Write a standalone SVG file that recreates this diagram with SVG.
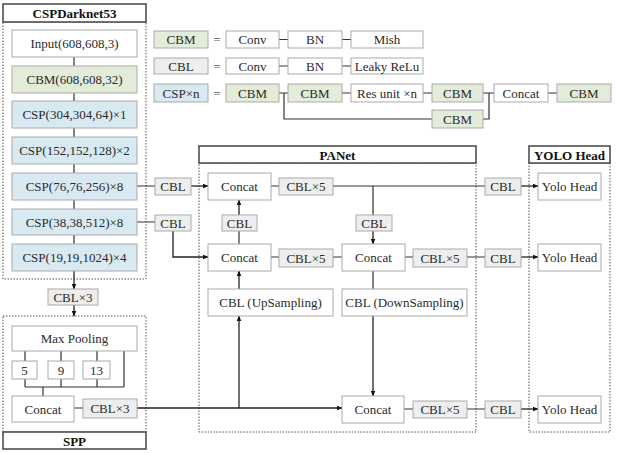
<svg xmlns="http://www.w3.org/2000/svg" width="617" height="453" viewBox="0 0 617 453" font-family="'Liberation Serif', 'Times New Roman', serif">
<style>
text{font-family:"Liberation Serif","Times New Roman",serif;font-size:13px;fill:#2a2a2a;text-anchor:middle;dominant-baseline:central}
.b{fill:#fff;stroke:#aaa;stroke-width:1}
.g{fill:#e3ebd9;stroke:#aaa;stroke-width:1}
.c{fill:#d9e9f2;stroke:#aaa;stroke-width:1}
.l{fill:#eeeeee;stroke:#aaa;stroke-width:1}
.hd{fill:#fff;stroke:#444;stroke-width:1.5}
.hdt{font-weight:bold;fill:#111}
.dot{fill:none;stroke:#555;stroke-width:1;stroke-dasharray:1.5 1.5}
.w{fill:none;stroke:#333;stroke-width:1.2}
.a{fill:none;stroke:#222;stroke-width:1.3;marker-end:url(#ar)}
.eq{fill:#555}
</style>
<defs>
<marker id="ar" viewBox="0 0 10 10" refX="9" refY="5" markerWidth="6" markerHeight="6" markerUnits="userSpaceOnUse" orient="auto">
<path d="M0,1 L10,5 L0,9 z" fill="#111"/>
</marker>
</defs>
<rect width="617" height="453" fill="#fff"/>

<!-- containers -->
<g id="cspdarknet53">
<rect class="dot" x="3" y="22" width="143" height="257"/>
<rect class="hd" x="3" y="4" width="143" height="18"/>
<text class="hdt" x="74.5" y="13.5">CSPDarknet53</text>
</g>
<g id="spp">
<rect class="dot" x="3" y="316" width="143" height="116"/>
<rect class="hd" x="3" y="432" width="143" height="17"/>
<text class="hdt" x="74.5" y="441">SPP</text>
</g>
<g id="panet">
<rect class="dot" x="199" y="163" width="277" height="269"/>
<rect class="hd" x="199" y="146" width="277" height="17"/>
<text class="hdt" x="337.5" y="155">PANet</text>
</g>
<g id="yolohead">
<rect class="dot" x="529" y="163" width="81" height="269"/>
<rect class="hd" x="529" y="146" width="81" height="17"/>
<text class="hdt" x="569.5" y="155">YOLO Head</text>
</g>

<!-- connectors -->
<g id="connectors">
<path class="w" d="M74,57V66 M74,93V101 M74,128V137 M74,164V173 M74,200V209 M74,235V244"/>
<path class="a" d="M74,271V289"/>
<path class="a" d="M74,305V316"/>
<path class="w" d="M25,351V361 M61,351V361 M97,351V361 M124,351V387 M25,379V387 M61,379V387 M97,379V387 M25,387H124 M43,387V396 M74,408H83"/>
<path class="a" d="M137,408H342"/>
<path class="a" d="M239,408V316"/>
<path class="w" d="M137,186H155 M137,222H155"/>
<path class="a" d="M191,186H208"/>
<path class="a" d="M173,231V257H208"/>
<path class="w" d="M239,244V231"/>
<path class="a" d="M239,215V200"/>
<path class="a" d="M239,289V271"/>
<path class="w" d="M271,186H279 M271,257H279 M333,257H342 M405,257H413 M333,186H485 M373,186V215 M373,271V289 M404,409H413 M467,409H485 M467,257H485"/>
<path class="a" d="M373,231V244"/>
<path class="a" d="M373,316V396"/>
<path class="a" d="M521,186H538"/>
<path class="a" d="M521,257H538"/>
<path class="a" d="M521,409H538"/>
<path class="w" d="M279,39.5H288 M342,39.5H351 M279,66H288 M342,66H351 M279,93H288 M342,93H351 M423,93H432 M483,93H494 M548,93H557 M284,93V119H432 M483,119H489V93"/>
</g>

<!-- legend -->
<g id="legend-cbm">
<rect class="g" x="154" y="31" width="54" height="17"/><text x="181" y="39.5">CBM</text>
<text class="eq" x="217" y="39.5">=</text>
<rect class="b" x="226" y="31" width="53" height="17"/><text x="252.5" y="39.5">Conv</text>
<rect class="b" x="288" y="31" width="54" height="17"/><text x="315" y="39.5">BN</text>
<rect class="b" x="351" y="31" width="72" height="17"/><text x="387" y="39.5">Mish</text>
</g>
<g id="legend-cbl">
<rect class="l" x="154" y="58" width="54" height="16"/><text x="181" y="66">CBL</text>
<text class="eq" x="217" y="66">=</text>
<rect class="b" x="226" y="58" width="53" height="16"/><text x="252.5" y="66">Conv</text>
<rect class="b" x="288" y="58" width="54" height="16"/><text x="315" y="66">BN</text>
<rect class="b" x="351" y="58" width="72" height="16"/><text x="387" y="66">Leaky ReLu</text>
</g>
<g id="legend-csp">
<rect class="c" x="154" y="84" width="54" height="18"/><text x="181" y="93">CSP×n</text>
<text class="eq" x="217" y="93">=</text>
<rect class="g" x="226" y="84" width="53" height="18"/><text x="252.5" y="93">CBM</text>
<rect class="g" x="288" y="84" width="54" height="18"/><text x="315" y="93">CBM</text>
<rect class="b" x="351" y="84" width="72" height="18"/><text x="387" y="93">Res unit ×n</text>
<rect class="g" x="432" y="84" width="51" height="18"/><text x="457.5" y="93">CBM</text>
<rect class="b" x="494" y="84" width="54" height="18"/><text x="521" y="93">Concat</text>
<rect class="g" x="557" y="84" width="54" height="18"/><text x="584" y="93">CBM</text>
<rect class="g" x="432" y="110" width="51" height="18"/><text x="457.5" y="119">CBM</text>
</g>

<!-- backbone nodes -->
<g id="input"><rect class="b" x="12" y="30" width="125" height="27"/><text x="74.5" y="43.5">Input(608,608,3)</text></g>
<g id="cbm0"><rect class="g" x="12" y="66" width="125" height="27"/><text x="74.5" y="79.5">CBM(608,608,32)</text></g>
<g id="csp1"><rect class="c" x="12" y="101" width="125" height="27"/><text x="74.5" y="114.5">CSP(304,304,64)×1</text></g>
<g id="csp2"><rect class="c" x="12" y="137" width="125" height="27"/><text x="74.5" y="150.5">CSP(152,152,128)×2</text></g>
<g id="csp3"><rect class="c" x="12" y="173" width="125" height="27"/><text x="74.5" y="186.5">CSP(76,76,256)×8</text></g>
<g id="csp4"><rect class="c" x="12" y="209" width="125" height="26"/><text x="74.5" y="222">CSP(38,38,512)×8</text></g>
<g id="csp5"><rect class="c" x="12" y="244" width="125" height="27"/><text x="74.5" y="257.5">CSP(19,19,1024)×4</text></g>
<g id="cbl3a"><rect class="l" x="48" y="289" width="50" height="16"/><text x="73" y="297">CBL×3</text></g>

<!-- SPP nodes -->
<g id="maxpool"><rect class="b" x="12" y="326" width="125" height="25"/><text x="74.5" y="338.5">Max Pooling</text></g>
<g id="mp5"><rect class="b" x="12" y="361" width="25" height="18"/><text x="24.5" y="370">5</text></g>
<g id="mp9"><rect class="b" x="48" y="361" width="26" height="18"/><text x="61" y="370">9</text></g>
<g id="mp13"><rect class="b" x="83" y="361" width="27" height="18"/><text x="96.5" y="370">13</text></g>
<g id="sppconcat"><rect class="b" x="12" y="396" width="62" height="26"/><text x="43" y="409">Concat</text></g>
<g id="cbl3b"><rect class="l" x="83" y="399" width="54" height="19"/><text x="110" y="408.5">CBL×3</text></g>

<!-- side CBLs -->
<g id="cbl-s1"><rect class="l" x="155" y="178" width="36" height="17"/><text x="173" y="186.5">CBL</text></g>
<g id="cbl-s2"><rect class="l" x="155" y="215" width="36" height="16"/><text x="173" y="223">CBL</text></g>

<!-- PANet nodes -->
<g id="concat1"><rect class="b" x="208" y="173" width="63" height="27"/><text x="239.5" y="186.5">Concat</text></g>
<g id="cbl5a"><rect class="l" x="279" y="178" width="54" height="17"/><text x="306" y="186.5">CBL×5</text></g>
<g id="cbl-up"><rect class="l" x="222" y="215" width="35" height="16"/><text x="239.5" y="223">CBL</text></g>
<g id="concat2"><rect class="b" x="208" y="244" width="63" height="27"/><text x="239.5" y="257.5">Concat</text></g>
<g id="cbl5b"><rect class="l" x="279" y="249" width="54" height="18"/><text x="306" y="258">CBL×5</text></g>
<g id="upsampling"><rect class="b" x="208" y="289" width="125" height="27"/><text x="270.5" y="302.5">CBL (UpSampling)</text></g>
<g id="cbl-down"><rect class="l" x="356" y="215" width="36" height="16"/><text x="374" y="223">CBL</text></g>
<g id="concat3"><rect class="b" x="342" y="244" width="63" height="27"/><text x="373.5" y="257.5">Concat</text></g>
<g id="cbl5c"><rect class="l" x="413" y="249" width="54" height="18"/><text x="440" y="258">CBL×5</text></g>
<g id="downsampling"><rect class="b" x="342" y="289" width="125" height="27"/><text x="404.5" y="302.5">CBL (DownSampling)</text></g>
<g id="concat4"><rect class="b" x="342" y="396" width="62" height="27"/><text x="373" y="409.5">Concat</text></g>
<g id="cbl5d"><rect class="l" x="413" y="401" width="54" height="17"/><text x="440" y="409.5">CBL×5</text></g>

<!-- head nodes -->
<g id="cbl-h1"><rect class="l" x="485" y="178" width="36" height="17"/><text x="503" y="186.5">CBL</text></g>
<g id="cbl-h2"><rect class="l" x="485" y="249" width="36" height="18"/><text x="503" y="258">CBL</text></g>
<g id="cbl-h3"><rect class="l" x="485" y="401" width="36" height="17"/><text x="503" y="409.5">CBL</text></g>
<g id="yolo1"><rect class="b" x="538" y="173" width="63" height="27"/><text x="569.5" y="186.5">Yolo Head</text></g>
<g id="yolo2"><rect class="b" x="538" y="244" width="63" height="27"/><text x="569.5" y="257.5">Yolo Head</text></g>
<g id="yolo3"><rect class="b" x="538" y="396" width="63" height="27"/><text x="569.5" y="409.5">Yolo Head</text></g>
</svg>
